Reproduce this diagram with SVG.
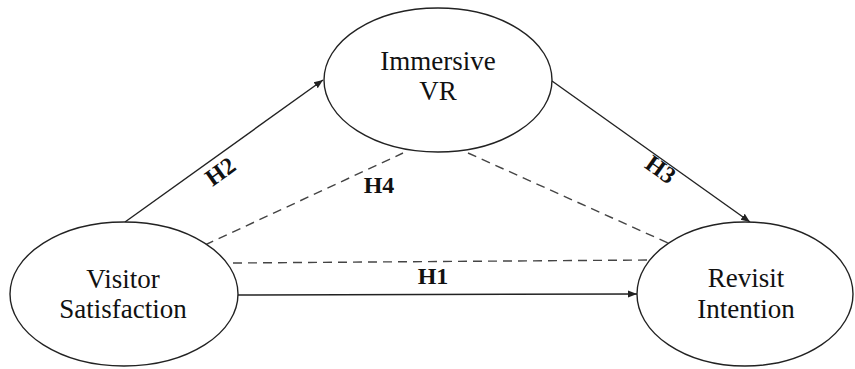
<svg xmlns="http://www.w3.org/2000/svg" width="855" height="369" viewBox="0 0 855 369">
<style>
.node{fill:#fff;stroke:#222;stroke-width:1.4}
.nt{font-family:'Liberation Serif','DejaVu Serif',serif;font-size:27px;fill:#111;text-anchor:middle}
.solid{stroke:#222;stroke-width:1.4;fill:none}
.dash{stroke:#444;stroke-width:1.4;stroke-dasharray:9 6;fill:none}
.lab{font-family:'Liberation Serif','DejaVu Serif',serif;font-weight:bold;font-size:24px;fill:#111;text-anchor:middle}
</style>
<defs>
<marker id="arr" viewBox="0 0 10 10" refX="10" refY="5" markerWidth="9" markerHeight="9" markerUnits="userSpaceOnUse" orient="auto">
<path d="M0,1 L10,5 L0,9 Z" fill="#222"/>
</marker>
</defs>
<rect width="855" height="369" fill="#fff"/>
<g id="connectors">
<line class="solid" x1="125" y1="222" x2="323" y2="80" marker-end="url(#arr)"/>
<line class="solid" x1="552" y1="81" x2="750" y2="222" marker-end="url(#arr)"/>
<line class="solid" x1="238" y1="295" x2="637" y2="294" marker-end="url(#arr)"/>
<line class="dash" x1="205" y1="245" x2="403" y2="153"/>
<line class="dash" x1="468" y1="153" x2="668" y2="243"/>
<line class="dash" x1="233" y1="263" x2="650" y2="260"/>
<text class="lab" transform="translate(225,178) rotate(-35.6)">H2</text>
<text class="lab" transform="translate(656,176) rotate(35.5)">H3</text>
<text class="lab" x="433" y="284">H1</text>
<text class="lab" x="379" y="193">H4</text>
</g>
<g id="immersive-vr">
<ellipse class="node" cx="438" cy="80" rx="114" ry="72"/>
<text class="nt" x="438" y="70">Immersive</text>
<text class="nt" x="438" y="100">VR</text>
</g>
<g id="visitor-satisfaction">
<ellipse class="node" cx="124" cy="294" rx="114" ry="72"/>
<text class="nt" x="123" y="288">Visitor</text>
<text class="nt" x="123" y="318">Satisfaction</text>
</g>
<g id="revisit-intention">
<ellipse class="node" cx="745" cy="294" rx="108" ry="72"/>
<text class="nt" x="746" y="287">Revisit</text>
<text class="nt" x="746" y="318">Intention</text>
</g>
</svg>
